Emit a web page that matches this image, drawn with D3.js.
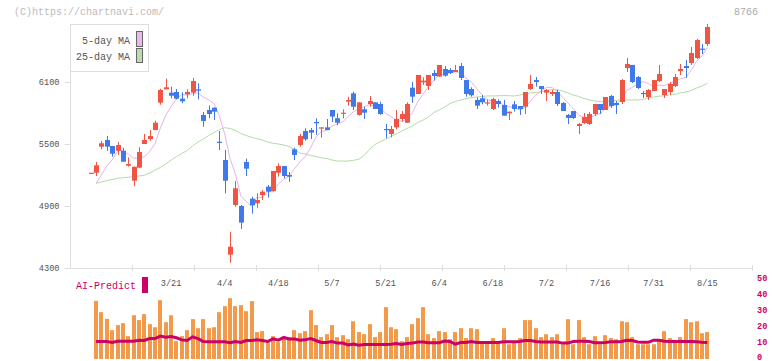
<!DOCTYPE html>
<html><head><meta charset="utf-8">
<script src="https://cdn.jsdelivr.net/npm/d3@7"></script>
<style>body{margin:0;background:#fff}svg{display:block}</style>
</head><body>
<svg id="chart" width="772" height="361"></svg>
<script>
// ---- data ----
const tickIndex  = [15,25,35,45,55,65,75,85,95,105,115];
const tickLabels = ["3/21","4/4","4/18","5/7","5/21","6/4","6/18","7/2","7/16","7/31","8/15"];
const priceTicks = [4300,4900,5500,6100];
const volTicks   = [0,10,20,30,40,50];

const open  = [5222,5222,5474,5539,5481,5435,5435,5290,5145,5271,5500,5548,5635,5900,6029,5997,6003,5939,5981,5997,6029,5781,5829,5852,5522,5345,4429,4910,4900,5326,4971,4926,5006,5087,5045,5222,5287,5200,5449,5490,5626,5635,5713,5655,5661,5829,5749,5797,5910,5990,5781,5836,5887,5903,5887,5645,5597,5661,5742,5706,6045,5984,6097,6061,6187,6152,6226,6216,6197,6255,6119,6032,5926,5942,5894,5839,5916,5877,5797,5884,5868,5861,6032,6119,6061,5997,5984,6003,5897,5781,5819,5674,5703,5694,5790,5887,5829,5965,5897,5907,6235,6265,6148,5994,5955,6013,6110,5974,6003,6061,6206,6255,6284,6332,6423,6468];
const high  = [5222,5326,5529,5577,5481,5519,5464,5371,5280,5468,5597,5635,5726,6035,6132,6055,6032,6000,6029,6139,6087,5810,5874,5852,5626,5442,4651,5142,4910,5358,4990,5023,5055,5103,5239,5313,5287,5229,5464,5597,5652,5655,5749,5661,5742,5829,5797,5836,5958,6006,5903,5861,5965,5903,5910,5694,5674,5829,5819,5903,6100,6168,6145,6168,6216,6265,6255,6235,6265,6284,6119,6049,5952,5974,5932,5948,5932,5926,5813,5916,5868,6003,6168,6148,6061,6032,6023,6023,5907,5790,5819,5703,5800,5810,5887,5887,5955,5974,5916,6129,6332,6265,6158,6013,6032,6119,6265,6032,6100,6177,6274,6313,6439,6516,6468,6661];
const low   = [5222,5190,5449,5435,5377,5394,5329,5280,5094,5265,5500,5532,5635,5880,6029,5942,5932,5894,5942,5967,5932,5667,5749,5732,5442,5023,4351,4893,4677,5190,4826,4878,4958,4981,5039,5184,5168,5135,5345,5474,5532,5548,5587,5561,5635,5713,5684,5749,5871,5829,5774,5742,5861,5839,5781,5555,5565,5642,5716,5706,5900,5984,6071,6023,6113,6152,6152,6177,6197,6119,5958,5958,5839,5884,5871,5829,5852,5774,5732,5813,5781,5790,6023,6055,5984,5916,5965,5868,5819,5694,5742,5597,5694,5684,5771,5790,5829,5848,5790,5887,6197,6090,6032,5945,5926,6013,6100,5945,5974,6052,6168,6139,6265,6323,6371,6448];
const close = [5222,5294,5507,5474,5406,5490,5329,5306,5280,5423,5539,5577,5706,6023,6049,5967,5939,5913,6003,6110,6016,5723,5790,5813,5516,5145,4506,5071,4739,5261,4907,4958,5039,5039,5239,5287,5190,5184,5394,5577,5545,5610,5700,5661,5635,5765,5706,5803,5926,5861,5903,5803,5916,5839,5790,5635,5645,5742,5790,5887,5958,6168,6113,6168,6158,6265,6161,6187,6216,6139,5984,5971,5871,5903,5903,5935,5887,5774,5813,5839,5839,6003,6081,6100,6032,6023,6003,5887,5819,5752,5752,5694,5761,5790,5887,5829,5955,5868,5877,6119,6274,6100,6042,5984,6023,6119,6177,6032,6081,6148,6226,6235,6381,6506,6413,6632];
const ma5   = [null,5120,5200,5287,5345,5434,5441,5401,5362,5366,5375,5425,5505,5654,5779,5864,5937,5978,5974,5986,5996,5953,5928,5890,5772,5597,5354,5210,4995,4944,4897,4987,4981,5041,5036,5112,5159,5188,5259,5326,5378,5462,5565,5619,5630,5674,5693,5714,5767,5812,5840,5859,5882,5864,5850,5797,5765,5730,5720,5740,5804,5909,5983,6059,6113,6174,6173,6188,6197,6194,6137,6099,6036,5974,5926,5917,5900,5880,5862,5850,5830,5854,5915,5972,6011,6048,6048,6009,5953,5897,5843,5781,5756,5750,5777,5792,5844,5866,5883,5930,6019,6048,6082,6104,6085,6054,6069,6067,6086,6111,6133,6144,6214,6299,6352,6433];
const ma25  = [null,5120,5132,5147,5156,5168,5173,5179,5184,5190,5198,5219,5248,5273,5306,5345,5379,5408,5437,5481,5519,5548,5582,5611,5640,5658,5650,5631,5602,5582,5565,5551,5539,5519,5507,5500,5490,5476,5447,5413,5403,5389,5379,5366,5360,5345,5335,5335,5335,5342,5352,5389,5447,5495,5522,5544,5573,5597,5626,5650,5674,5708,5732,5761,5805,5829,5858,5892,5911,5926,5938,5948,5955,5960,5965,5965,5967,5969,5967,5965,5974,5984,5994,5998,6006,6018,6027,6027,6013,5994,5974,5960,5940,5926,5916,5909,5911,5916,5921,5924,5926,5926,5926,5931,5948,5955,5963,5967,5974,5982,5994,6003,6018,6042,6061,6087];
const volume = [null,35.6,28.6,24.5,17.5,20.6,21.8,13.8,26.7,23.7,27.4,21.2,19.3,36.0,22.4,26.7,10.7,13.8,17.5,24.3,18.7,24.3,18.7,19.3,28.6,32.3,37.2,32.3,32.9,29.2,35.4,16.3,16.9,11.3,13.8,10.1,13.2,13.2,17.5,15.6,16.9,29.8,20.6,13.2,15.0,20.6,13.2,14.4,11.9,23.0,16.3,15.0,21.2,13.2,16.3,31.7,19.3,18.1,10.7,13.2,21.2,24.9,31.7,15.0,12.6,16.9,16.3,11.9,16.3,18.7,12.6,18.7,18.1,10.7,9.5,12.6,10.1,18.7,8.8,10.1,12.6,23.7,23.7,18.7,13.2,15.0,13.2,15.0,8.8,24.3,8.8,23.7,13.2,8.8,13.8,8.8,14.4,12.6,11.9,23.0,22.4,13.2,8.8,8.8,8.8,8.8,11.3,16.9,12.6,11.3,13.2,24.3,22.4,23.0,15.6,16.3];
const aiPredict = [null,10.5,10.5,10.5,9.9,10.6,10.6,10.6,10.6,11.3,11.1,12.3,12.3,13.8,13.2,13.6,12.8,11.5,11.1,13.4,12.3,10.5,10.3,10.3,10.3,10.3,9.7,10.5,9.9,11.1,11.1,11.5,11.1,10.5,12.1,11.3,13.0,12.1,12.1,11.3,11.5,12.3,11.1,9.9,9.9,10.5,9.5,9.5,8.4,9.0,8.2,8.6,8.6,8.6,8.6,8.6,8.8,9.2,8.6,9.2,9.5,10.2,10.2,9.7,9.7,9.7,10.8,10.5,8.8,9.9,9.9,10.5,9.9,9.9,9.9,9.9,9.9,10.3,10.3,10.3,10.5,11.1,11.1,10.5,10.2,10.2,10.2,10.2,9.5,9.5,10.5,10.7,10.7,10.5,9.7,9.7,9.9,10.3,10.3,10.5,11.3,11.1,10.2,10.0,10.0,11.3,11.3,10.6,10.5,10.5,10.5,10.5,10.5,10.3,10.0,9.9];

// ---- drawing ----
const svg = d3.select("#chart");
const FONT = "'Liberation Mono','DejaVu Sans Mono',monospace";
const idx = d3.range(close.length);

const x = d3.scaleLinear().domain([0, close.length - 1]).range([90.7, 707.3]);
const y = d3.scaleLinear().domain([4300, 6100]).range([268, 82]);
const v = d3.scaleLinear().domain([0, 50]).range([358.5, 277.5]);
const frame = d3.scaleLinear().domain([0, 11]).range([70.5, 752]);

const UP = "#f05442", DOWN = "#4079ea", AXIS = "#dedede";

// header texts
svg.append("text").attr("x", 14).attr("y", 15).attr("font-family", FONT).attr("font-size", 10)
  .attr("fill", "#bbb").text("(C)https://chartnavi.com/");
svg.append("text").attr("x", 758).attr("y", 15).attr("text-anchor", "end").attr("font-family", FONT)
  .attr("font-size", 10).attr("fill", "#aaa").text("8766");

// frame lines
svg.append("line").attr("x1", frame(0)).attr("x2", frame(0)).attr("y1", 24).attr("y2", y(4300))
  .attr("stroke", AXIS);
svg.append("line").attr("x1", frame(0)).attr("x2", frame(11)).attr("y1", y(4300) + 0.5).attr("y2", y(4300) + 0.5)
  .attr("stroke", AXIS);
svg.append("g").selectAll("line").data(d3.range(1, 12)).join("line")
  .attr("x1", d => Math.round(frame(d)) + 0.5).attr("x2", d => Math.round(frame(d)) + 0.5)
  .attr("y1", y(4300) - 3).attr("y2", y(4300) + 3).attr("stroke", AXIS);

// y axis
const yAxis = svg.append("g").attr("transform", `translate(${frame(0)},0)`)
  .call(d3.axisLeft(y).tickValues(priceTicks).tickSize(6).tickPadding(5).tickFormat(d3.format("d")));
yAxis.select(".domain").remove();
yAxis.selectAll(".tick line").attr("stroke", AXIS);
yAxis.selectAll(".tick text").attr("font-family", FONT).attr("font-size", 8.6).attr("fill", "#555");

// date labels
svg.append("g").selectAll("text").data(tickIndex).join("text")
  .attr("x", (d) => x(d)).attr("y", 285.5).attr("text-anchor", "middle")
  .attr("font-family", FONT).attr("font-size", 8.6).attr("fill", "#555")
  .text((d, i) => tickLabels[i]);

// MA lines
const maLine = arr => d3.line().defined(i => arr[i] != null).x(i => x(i)).y(i => y(arr[i]));
svg.append("path").datum(idx).attr("d", maLine(ma25)).attr("fill", "none").attr("stroke", "#b5dba6").attr("stroke-width", 1);
svg.append("path").datum(idx).attr("d", maLine(ma5)).attr("fill", "none").attr("stroke", "#e8b2ea").attr("stroke-width", 1);

// candles
const cg = svg.append("g");
const col = i => close[i] >= open[i] ? UP : DOWN;
cg.selectAll("line.w").data(idx.filter(i => high[i] > low[i])).join("line")
  .attr("x1", i => Math.round(x(i)) + 0.5).attr("x2", i => Math.round(x(i)) + 0.5)
  .attr("y1", i => y(high[i])).attr("y2", i => y(low[i])).attr("stroke", col);
cg.selectAll("rect").data(idx).join("rect")
  .attr("x", i => Math.round(x(i)) - 2).attr("width", 5)
  .attr("y", i => Math.min(y(open[i]), y(close[i])))
  .attr("height", i => Math.max(1.2, Math.abs(y(open[i]) - y(close[i]))))
  .attr("fill", col);

// legend
svg.append("rect").attr("x", 70.5).attr("y", 24.5).attr("width", 78).attr("height", 47)
  .attr("fill", "#fff").attr("stroke", AXIS);
const leg = [["5-day MA", "#eab8ea", 43.5, 31.5, 15], ["25-day MA", "#bcdcb0", 60, 48.5, 14]];
leg.forEach(([t, c, ty, ry, rh]) => {
  svg.append("text").attr("x", 130).attr("y", ty).attr("text-anchor", "end").attr("font-family", FONT)
    .attr("font-size", 10).attr("fill", "#555").text(t);
  svg.append("rect").attr("x", 136.5).attr("y", ry).attr("width", 6).attr("height", rh)
    .attr("fill", c).attr("stroke", "#666");
});

// bottom panel: volume bars
svg.append("g").selectAll("rect").data(idx.filter(i => volume[i] != null)).join("rect")
  .attr("x", i => Math.round(x(i)) - 2).attr("width", 4)
  .attr("y", i => v(volume[i])).attr("height", i => v(0) - v(volume[i]) + 0.5)
  .attr("fill", "#f2994a");

// AI predict line
svg.append("path").datum(idx.filter(i => aiPredict[i] != null))
  .attr("d", d3.line().x(i => x(i)).y(i => v(aiPredict[i])))
  .attr("fill", "none").attr("stroke", "#cc0066").attr("stroke-width", 3);

// right axis labels
svg.append("g").selectAll("text").data(volTicks).join("text")
  .attr("x", 757).attr("y", d => Math.min(v(d) + 3, 359.5)).attr("font-family", FONT).attr("font-size", 8.6)
  .attr("font-weight", "bold").attr("fill", "#cc0066").text(d => d);

// AI-Predict label
svg.append("text").attr("x", 76).attr("y", 289).attr("font-family", FONT).attr("font-size", 10)
  .attr("fill", "#cc0066").text("AI-Predict");
svg.append("rect").attr("x", 142).attr("y", 277).attr("width", 6).attr("height", 16).attr("fill", "#cc0066");
</script>
</body></html>
